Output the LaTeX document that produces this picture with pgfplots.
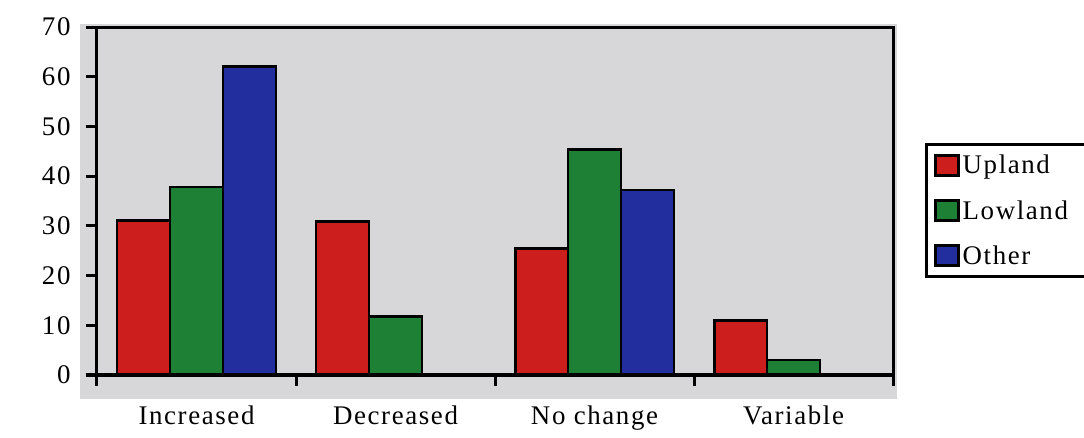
\documentclass[border=0pt]{standalone}
\usepackage{pgfplots}
\pgfplotsset{compat=1.18}
\usepackage{fontspec}
\setmainfont{Liberation Serif}
\newfontfamily\spaced[LetterSpace=6]{Liberation Serif}

\definecolor{upland}{RGB}{204,30,28}
\definecolor{lowland}{RGB}{30,128,52}
\definecolor{other}{RGB}{34,46,158}
\definecolor{panel}{RGB}{215,215,218}

\pgfplotsset{
  catbar/.style={
    ybar, bar width=0.266, draw=black, line width=2.8bp,
    legend image code/.code={\draw[##1, line width=2.4bp] (0bp,-10bp) rectangle (23bp,10bp);}
  }
}

\begin{document}
\begin{tikzpicture}[font=\spaced\fontsize{27}{32}\selectfont]
\useasboundingbox (-97bp,-63bp) rectangle (987bp,375bp);
% grey panel behind the plot area
\fill[panel] (-17bp,-24bp) rectangle (800bp,351bp);
\begin{axis}[
  at={(0,0)}, anchor=south west,
  scale only axis, width=796bp, height=348bp,
  xmin=-0.5, xmax=3.5, ymin=0, ymax=70,
  ytick={0,10,...,70},
  xtick={-0.5,0.5,1.5,2.5,3.5},
  xticklabels={},
  extra x ticks={0,1,2,3},
  extra x tick labels={Increased,Decreased,No change,Variable},
  extra x tick style={major tick length=0pt, xticklabel style={yshift=-27bp}},
  /pgf/number format/assume math mode=true,
  yticklabel style={font=\spaced\fontsize{27}{32}\selectfont, xshift=-12bp},
  tick align=outside,
  xtick pos=bottom, ytick pos=left,
  major tick length=11bp,
  tick style={line width=3bp, black},
  axis line style={line width=3bp},
  axis on top,
  legend style={
    at={(axis description cs:1,0.5)}, anchor=west,
    xshift=32bp, yshift=-9.5bp,
    draw=black, line width=2.5bp, fill=white,
    inner xsep=8bp, inner ysep=9bp,
    row sep=21bp,
    nodes={inner xsep=3bp, inner ysep=2bp},
    font=\spaced\fontsize{27}{32}\selectfont,
  },
  legend cell align=left,
]
\addplot[catbar, bar shift=-0.266, fill=upland]
  coordinates {(0,31) (1,30.8) (2,25.5) (3,11)};
\addplot[catbar, bar shift=0, fill=lowland]
  coordinates {(0,37.8) (1,11.7) (2,45.3) (3,3)};
\addplot[catbar, bar shift=0.266, fill=other]
  coordinates {(0,62) (2,37.2)};
\legend{\makebox[130bp][l]{Upland},\makebox[130bp][l]{Lowland},\makebox[130bp][l]{Other}}
\node at (axis description cs:-0.0905,0.5) {\%};
\end{axis}
\end{tikzpicture}
\end{document}
